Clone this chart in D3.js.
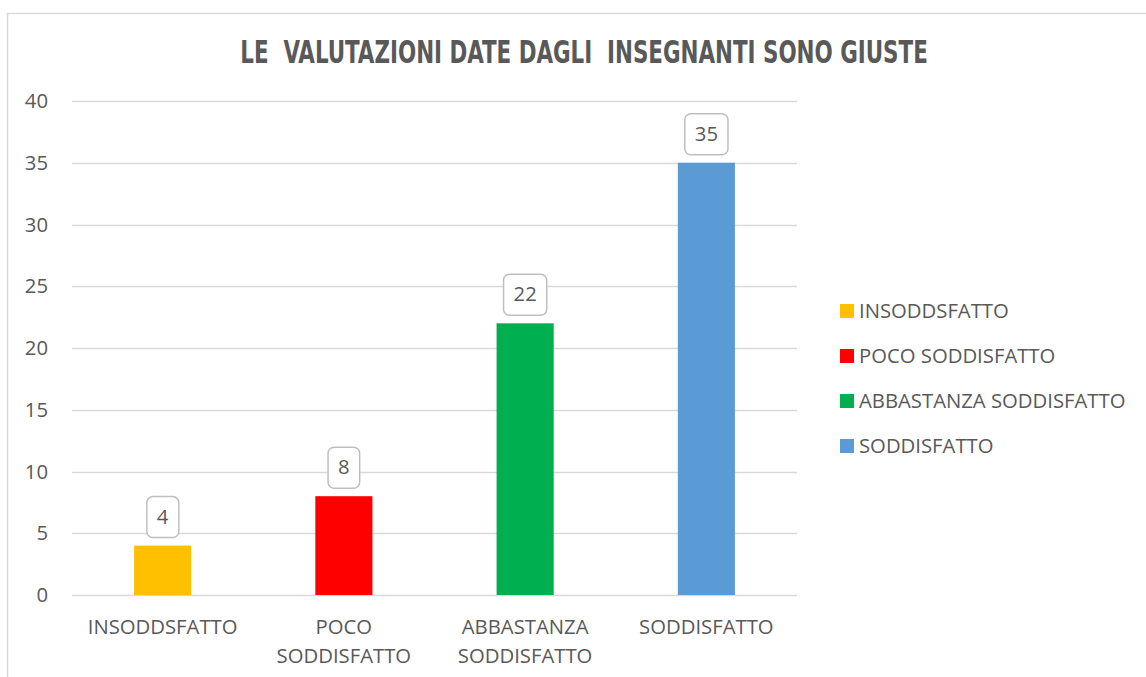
<!DOCTYPE html>
<html lang="it">
<head>
<meta charset="utf-8">
<title>Le valutazioni date dagli insegnanti sono giuste</title>
<script src="https://cdn.jsdelivr.net/npm/d3@7"></script>
<style>
  body{margin:0;background:#fff;}
  svg text{font-family:"Open Sans","Noto Sans",sans-serif;fill:#595959;}
</style>
</head>
<body>
<div id="chart"></div>
<script>
// data
var categories = ["INSODDSFATTO","POCO SODDISFATTO","ABBASTANZA SODDISFATTO","SODDISFATTO"]
var axisLabels = [["INSODDSFATTO"],["POCO","SODDISFATTO"],["ABBASTANZA","SODDISFATTO"],["SODDISFATTO"]]
var values = [4, 8, 22, 35]
var colors = ["#FFC000","#FF0000","#00B050","#5B9BD5"]
var yTicks = [0,5,10,15,20,25,30,35,40]
var title = "LE  VALUTAZIONI DATE DAGLI  INSEGNANTI SONO GIUSTE"

var W = 1146, H = 677
var plot = {left:72, right:797, top:101, bottom:595}
var fs = "20.3px"

var svg = d3.select("#chart").append("svg")
    .attr("width",W).attr("height",H)

// chart frame (runs off the right and bottom edges)
svg.append("rect")
    .attr("x",7.5).attr("y",13.5)
    .attr("width",W+20).attr("height",H+20)
    .attr("fill","none").attr("stroke","#d9d9d9").attr("stroke-width",1.5)

// title: condensed bold, squeezed to the reference width
var tg = svg.append("g")
var tt = tg.append("text")
    .attr("x",0).attr("y",0)
    .attr("text-anchor","middle")
    .style("font-family","'DejaVu Sans Condensed','Liberation Sans Narrow',sans-serif")
    .style("font-weight","bold").style("font-size","32px")
    .style("white-space","pre")
    .text(title)
var tw = tt.node().getComputedTextLength()
tg.attr("transform","translate(584,63) scale("+(688/tw)+",1)")

var x = d3.scaleBand().domain(categories).range([plot.left,plot.right]).paddingInner(0.685).paddingOuter(0.3425)
var y = d3.scaleLinear().domain([0,40]).range([plot.bottom,plot.top])

// gridlines
svg.append("g").selectAll("line").data(yTicks).enter().append("line")
    .attr("x1",plot.left).attr("x2",plot.right)
    .attr("y1",function(d){return Math.round(y(d))+0.5})
    .attr("y2",function(d){return Math.round(y(d))+0.5})
    .attr("stroke","#d9d9d9").attr("stroke-width",1.5)

// y tick labels
svg.append("g").selectAll("text").data(yTicks).enter().append("text")
    .attr("x",48).attr("y",function(d){return y(d)})
    .attr("dy","0.35em").attr("text-anchor","end")
    .style("font-size",fs)
    .text(function(d){return d})

// bars
svg.append("g").selectAll("rect").data(values).enter().append("rect")
    .attr("x",function(d,i){return x(categories[i])})
    .attr("y",function(d){return y(d)})
    .attr("width",x.bandwidth())
    .attr("height",function(d){return y(0)-y(d)})
    .attr("fill",function(d,i){return colors[i]})

// value labels in rounded boxes
var lab = svg.append("g").selectAll("g").data(values).enter().append("g")
    .attr("transform",function(d,i){
        return "translate("+(x(categories[i])+x.bandwidth()/2)+","+(y(d)-29)+")"
    })
lab.append("text")
    .attr("text-anchor","middle").attr("dy","0.35em")
    .style("font-size",fs)
    .text(function(d){return d})
lab.each(function(){
    var g = d3.select(this)
    var bb = g.select("text").node().getBBox()
    g.insert("rect","text")
        .attr("x",bb.x-10).attr("y",-20)
        .attr("width",bb.width+20).attr("height",41)
        .attr("rx",6).attr("ry",6)
        .attr("fill","#fff").attr("stroke","#bfbfbf").attr("stroke-width",1.5)
})

// x axis labels
var xl = svg.append("g").selectAll("text").data(axisLabels).enter().append("text")
    .attr("text-anchor","middle")
    .style("font-size",fs)
    .attr("transform",function(d,i){
        return "translate("+(x(categories[i])+x.bandwidth()/2)+",634)"
    })
xl.selectAll("tspan").data(function(d){return d}).enter().append("tspan")
    .attr("x",0).attr("y",function(d,i){return i*29})
    .text(function(d){return d})

// legend
var leg = svg.append("g").selectAll("g").data(categories).enter().append("g")
    .attr("transform",function(d,i){return "translate(840,"+(311+i*45)+")"})
leg.append("rect")
    .attr("x",0).attr("y",-7).attr("width",14).attr("height",14)
    .attr("fill",function(d,i){return colors[i]})
leg.append("text")
    .attr("x",19).attr("dy","0.35em")
    .style("font-size",fs)
    .text(function(d){return d})
</script>
</body>
</html>
